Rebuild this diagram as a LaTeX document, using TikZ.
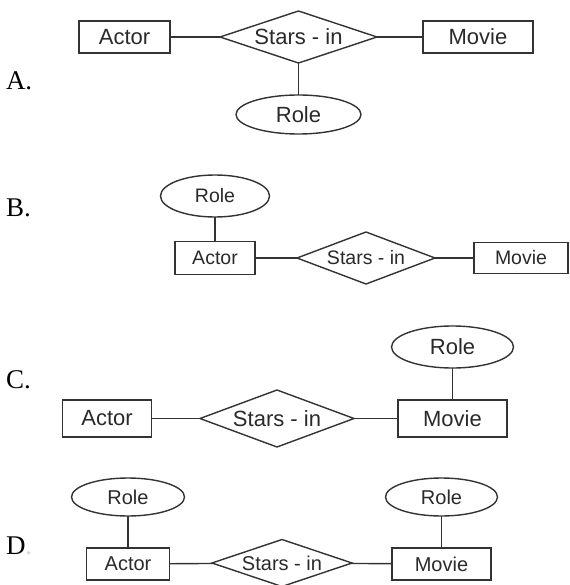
\documentclass[tikz,border=0pt]{standalone}
\usepackage{fontspec}
\setmainfont{Liberation Sans}
\newfontfamily\labelfont{Liberation Serif}
\usetikzlibrary{shapes.geometric}
\definecolor{ink}{HTML}{333333}
\definecolor{txt}{HTML}{2A2A2A}
\begin{document}
\begin{tikzpicture}[x=1pt,y=-1pt,
  every node/.style={inner sep=0pt,outer sep=0pt,text=txt},
  ent/.style={draw=ink,line width=1.4pt,rectangle},
  rel/.style={draw=ink,line width=1.4pt,diamond,aspect=3},
  att/.style={draw=ink,line width=1.4pt,ellipse},
  conn/.style={draw=ink,line width=1.4pt},
  optlabel/.style={anchor=west,text=black,font=\labelfont\fontsize{27}{30}\selectfont},
  fA/.style={font=\fontsize{22}{25}\selectfont},
  fB/.style={font=\fontsize{19.5}{22}\selectfont},
  fC/.style={font=\fontsize{22}{25}\selectfont},
  fD/.style={font=\fontsize{20}{23}\selectfont}]
\useasboundingbox (0,0) rectangle (569,585);
\fill[white] (0,0) rectangle (569,585);

% ---------- A ----------
\node[optlabel] (labA) at (6,81) {A.};
\node[ent,fA,minimum width=91,minimum height=32] (actorA) at (124.5,37) {Actor};
\node[rel,fA,minimum width=157,minimum height=52] (starsA) at (298.5,37) {Stars - in};
\node[ent,fA,minimum width=110,minimum height=32] (movieA) at (478,37) {Movie};
\node[att,fA,minimum width=125,minimum height=39] (roleA) at (298.5,114.5) {Role};
\draw[conn] (actorA) -- (starsA);
\draw[conn] (starsA) -- (movieA);
\draw[conn] (starsA) -- (roleA);

% ---------- B ----------
\node[optlabel] (labB) at (6,208) {B.};
\node[att,fB,minimum width=109,minimum height=42] (roleB) at (215,196) {Role};
\node[ent,fB,minimum width=80,minimum height=33] (actorB) at (215,258) {Actor};
\node[rel,fB,minimum width=138,minimum height=52] (starsB) at (366,258) {Stars - in};
\node[ent,fB,minimum width=94,minimum height=31] (movieB) at (521,258) {Movie};
\draw[conn] (roleB) -- (actorB);
\draw[conn] (actorB) -- (starsB);
\draw[conn] (starsB) -- (movieB);

% ---------- C ----------
\node[optlabel] (labC) at (6,380) {C.};
\node[ent,fC,minimum width=89,minimum height=37] (actorC) at (107,418.5) {Actor};
\node[rel,fC,minimum width=154,minimum height=57] (starsC) at (277,418.5) {Stars - in};
\node[ent,fC,minimum width=109,minimum height=37] (movieC) at (452.5,418.5) {Movie};
\node[att,fC,minimum width=122,minimum height=42] (roleC) at (452.5,347) {Role};
\draw[conn] (actorC) -- (starsC);
\draw[conn] (starsC) -- (movieC);
\draw[conn] (roleC) -- (movieC);

% ---------- D ----------
\node[optlabel] (labD) at (6,546) {D\textcolor{black!15}{.}};
\node[att,fD,minimum width=113,minimum height=38] (roleD1) at (128,497) {Role};
\node[ent,fD,minimum width=83,minimum height=32] (actorD) at (128,564) {Actor};
\node[rel,fD,minimum width=140,minimum height=47] (starsD) at (282,563) {Stars - in};
\node[ent,fD,minimum width=99,minimum height=32] (movieD) at (441.5,564) {Movie};
\node[att,fD,minimum width=112,minimum height=38] (roleD2) at (441.5,497) {Role};
\draw[conn] (roleD1) -- (actorD);
\draw[conn] (actorD) -- (starsD);
\draw[conn] (starsD) -- (movieD);
\draw[conn] (roleD2) -- (movieD);
\end{tikzpicture}
\end{document}
